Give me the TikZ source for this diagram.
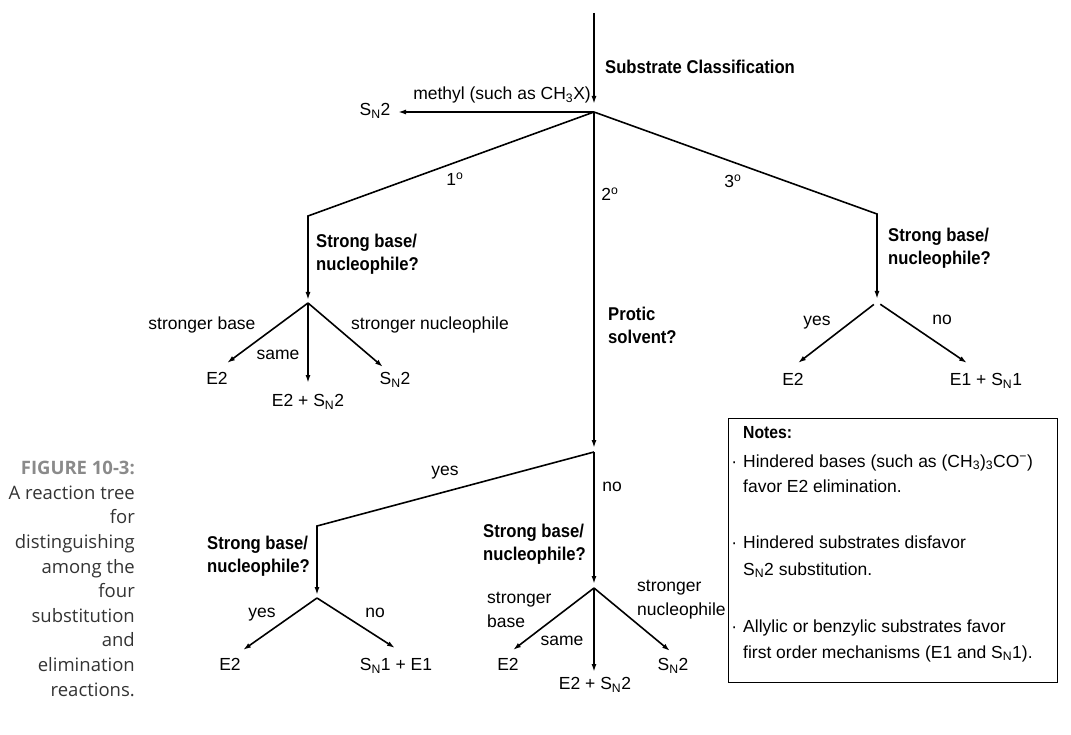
\documentclass[tikz,border=0pt]{standalone}
\usepackage{fontspec}
\setmainfont{Liberation Sans}
\newfontfamily\qfont{Liberation Sans}[FakeStretch=0.9]
\newfontfamily\capfont{Open Sans}
\usetikzlibrary{arrows.meta,calc}

\definecolor{capgray}{HTML}{8A8A8A}
\definecolor{captext}{HTML}{333333}

\tikzset{
  branch/.style={line width=1.6pt},
  arr/.style={branch,-{Latex[length=8pt,width=5pt]}},
  question/.style={font=\fontsize{18.5}{23}\qfont\bfseries, align=left, anchor=west, inner sep=0pt},
  choice/.style={font=\fontsize{17.5}{24}\selectfont, align=left, anchor=mid, inner sep=0pt},
  leaf/.style={choice},
}

\begin{document}
\begin{tikzpicture}[x=1pt,y=-1pt]
  \useasboundingbox (0,0) rectangle (1071,735);
  \coordinate (top) at (594,13);
  \coordinate (root) at (594,112);
  \coordinate (am) at (398,112);
  \coordinate (c1) at (308,216);
  \coordinate (j1) at (308,303);
  \coordinate (c3) at (877,214);
  \coordinate (j3) at (877,302);
  \coordinate (jp) at (594,452);
  \coordinate (cy) at (317,526);
  \coordinate (jy) at (317,598);
  \coordinate (jn) at (594,588);
  \coordinate (a1l) at (227,363);
  \coordinate (a1m) at (308,383);
  \coordinate (a1r) at (383,367);
  \coordinate (a3l) at (798,363);
  \coordinate (a3r) at (967,363);
  \coordinate (ayl) at (243,650);
  \coordinate (ayr) at (395,648);
  \coordinate (anl) at (513,650);
  \coordinate (anm) at (594,672);
  \coordinate (anr) at (670,651);

  \draw[arr, shorten >=8pt] (top) -- (root);
  \draw[arr] (root) -- (am);
  \draw[arr, shorten >=3pt] (root) -- (c1) -- (j1);
  \draw[arr, shorten >=4pt] (root) -- (jp);
  \draw[arr, shorten >=3pt] (root) -- (c3) -- (j3);
  \draw[arr, shorten >=3pt] (jp) -- (cy) -- (jy);
  \draw[arr, shorten >=4pt] (jp) -- (jn);
  \foreach \e in {a1l,a1m,a1r} \draw[arr] (j1) -- (\e);
  \foreach \e in {a3l,a3r} \draw[arr, shorten <=4pt] (j3) -- (\e);
  \foreach \e in {ayl,ayr} \draw[arr] (jy) -- (\e);
  \foreach \e in {anl,anm,anr} \draw[arr] (jn) -- (\e);

  \node[question] (qsub) at (605,67) {Substrate Classification};
  \node[choice] (lmethyl) at (502,97) {methyl (such as CH\textsubscript{3}X)};
  \node[leaf] (sn2m) at (375,113) {S\textsubscript{N}2};
  \node[choice] (lprim) at (455,183) {1\textsuperscript{o}};
  \node[choice] (lsec) at (610,198) {2\textsuperscript{o}};
  \node[choice] (ltert) at (733,185) {3\textsuperscript{o}};

  \node[question] (qprim) at (316,254) {Strong base/\\nucleophile?};
  \node[choice] (lpb) at (202,327) {stronger base};
  \node[choice] (lps) at (278,357) {same};
  \node[choice] (lpn) at (430,327) {stronger nucleophile};
  \node[leaf] (e2a) at (217,382) {E2};
  \node[leaf] (mixa) at (308,404) {E2 + S\textsubscript{N}2};
  \node[leaf] (sn2a) at (395,382) {S\textsubscript{N}2};

  \node[question] (qtert) at (888,248) {Strong base/\\nucleophile?};
  \node[choice] (lty) at (817,323) {yes};
  \node[choice] (ltn) at (942,322) {no};
  \node[leaf] (e2b) at (793,383) {E2};
  \node[leaf] (mixb) at (986,383) {E1 + S\textsubscript{N}1};

  \node[question] (qprot) at (608,325) {Protic\\solvent?};
  \node[choice] (lpy) at (445,473) {yes};
  \node[choice] (lpno) at (612,489) {no};

  \node[question] (qyes) at (207,556) {Strong base/\\nucleophile?};
  \node[choice] (lyy) at (262,615) {yes};
  \node[choice] (lyn) at (375,615) {no};
  \node[leaf] (e2c) at (230,668) {E2};
  \node[leaf] (mixc) at (396,668) {S\textsubscript{N}1 + E1};

  \node[question] (qno) at (483,544) {Strong base/\\nucleophile?};
  \node[choice, anchor=west] (lnb) at (487,610) {stronger\\base};
  \node[choice] (lns) at (562,643) {same};
  \node[choice, anchor=west] (lnn) at (637,600) {stronger\\nucleophile};
  \node[leaf] (e2d) at (508,668) {E2};
  \node[leaf] (mixd) at (595,687) {E2 + S\textsubscript{N}2};
  \node[leaf] (sn2d) at (673,668) {S\textsubscript{N}2};

  \node[draw, line width=1pt, minimum width=329pt, minimum height=264pt, anchor=north west, inner sep=0pt] (notebox) at (728,418) {};
  \node[anchor=north west, align=left, inner sep=0pt, font=\fontsize{17.5}{26}\selectfont] (notes) at (743,426)
    {{\qfont\bfseries Notes:}\\[3pt]
     \llap{·\hspace{6pt}}Hindered bases (such as (CH\textsubscript{3})\textsubscript{3}CO\textsuperscript{−})\\[-1pt]
     favor E2 elimination.\\[30pt]
     \llap{·\hspace{6pt}}Hindered substrates disfavor\\[1pt]
     S\textsubscript{N}2 substitution.\\[31pt]
     \llap{·\hspace{6pt}}Allylic or benzylic substrates favor\\
     first order mechanisms (E1 and S\textsubscript{N}1).};

  \node[anchor=north east, align=right, inner sep=0pt, text=captext, font=\fontsize{18.5}{24.6}\capfont] (caption) at (135,461)
    {\textcolor{capgray}{\bfseries FIGURE 10-3:}\\A reaction tree\\for\\distinguishing\\among the\\four\\substitution\\and\\elimination\\reactions.};
\end{tikzpicture}
\end{document}
